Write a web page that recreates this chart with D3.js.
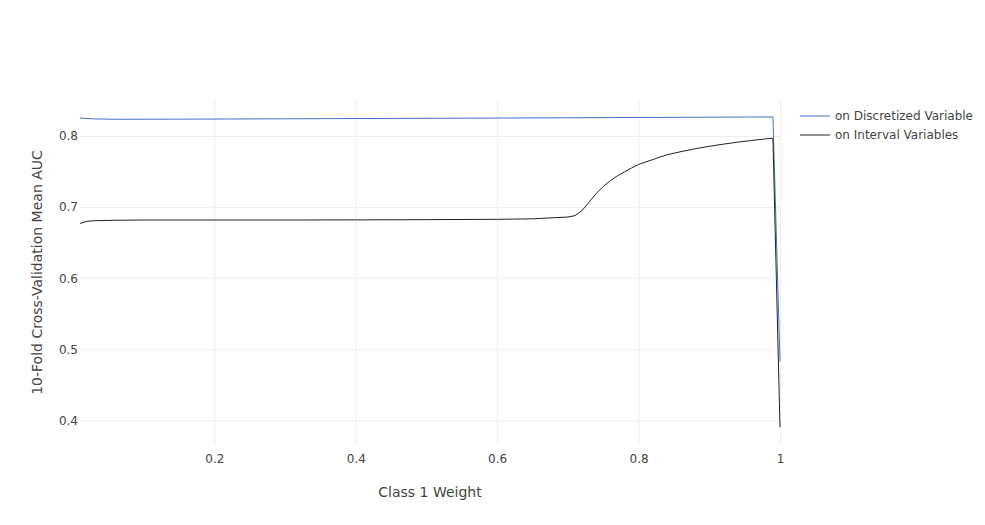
<!DOCTYPE html>
<html>
<head>
<meta charset="utf-8">
<script src="https://cdn.jsdelivr.net/npm/d3@7"></script>
<style>
  body { margin: 0; background: #fff; }
  text { font-family: "DejaVu Sans", Verdana, sans-serif; fill: #444; }
</style>
</head>
<body>
<div id="chart"></div>
<script>
// class 1 weight values
var weights = [0.01, 0.02, 0.03, 0.06, 0.1, 0.2, 0.3, 0.4, 0.5, 0.6, 0.65, 0.7, 0.71, 0.72, 0.73, 0.74, 0.75, 0.76, 0.77, 0.78, 0.79, 0.8, 0.82, 0.84, 0.86, 0.88, 0.9, 0.92, 0.94, 0.96, 0.98, 0.99, 1.0];
// mean AUC, interval variables
var aucInterval = [0.677, 0.680, 0.6808, 0.6815, 0.6818, 0.6818, 0.6818, 0.682, 0.6823, 0.6828, 0.6835, 0.686, 0.688, 0.695, 0.707, 0.719, 0.729, 0.737, 0.744, 0.7495, 0.755, 0.760, 0.7668, 0.7735, 0.778, 0.782, 0.7855, 0.7885, 0.7913, 0.7937, 0.796, 0.7967, 0.3903];
// mean AUC, discretized variables
var weightsDisc = [0.01, 0.03, 0.06, 0.2, 0.4, 0.6, 0.8, 0.99, 1.0];
var aucDiscretized = [0.8253, 0.824, 0.8235, 0.8238, 0.8245, 0.8252, 0.826, 0.8268, 0.4826];

var seriesNames = ["on Discretized Variables", "on Interval Variables"];
var seriesColors = ["#4472c4", "#222222"];
var xTicks = [0.2, 0.4, 0.6, 0.8, 1];
var yTicks = [0.4, 0.5, 0.6, 0.7, 0.8];

var width = 985, height = 525;
var plotL = 80, plotR = 780, plotT = 100, plotB = 445;

var svg = d3.select('#chart').append('svg')
  .attr('width', width)
  .attr('height', height);

var x = d3.scaleLinear().domain([0.01, 1]).range([plotL, plotR]);
var y = d3.scaleLinear().domain([0.3654, 0.8506]).range([plotB, plotT]);

// grid + tick labels
svg.append('g')
  .attr('transform', 'translate(0,' + plotB + ')')
  .call(d3.axisBottom(x).tickValues(xTicks).tickSize(-(plotB - plotT)).tickFormat(d3.format('~g')).tickPadding(9))
  .call(function (g) {
    g.select('.domain').remove();
    g.selectAll('.tick line').attr('stroke', '#eee');
    g.selectAll('.tick text').attr('font-size', 12).attr('fill', '#444');
  });

svg.append('g')
  .attr('transform', 'translate(' + plotL + ',0)')
  .call(d3.axisLeft(y).tickValues(yTicks).tickSize(-(plotR - plotL)).tickFormat(d3.format('.1f')).tickPadding(2))
  .call(function (g) {
    g.select('.domain').remove();
    g.selectAll('.tick line').attr('stroke', '#eee');
    g.selectAll('.tick text').attr('font-size', 12).attr('fill', '#444');
  });

var line = d3.line()
  .x(function (d) { return x(d[0]); })
  .y(function (d) { return y(d[1]); });

var discData = weightsDisc.map(function (w, i) { return [w, aucDiscretized[i]]; });
var intData = weights.map(function (w, i) { return [w, aucInterval[i]]; });

svg.append('path')
  .datum(discData)
  .attr('d', line)
  .attr('fill', 'none')
  .attr('stroke', seriesColors[0])
  .attr('stroke-width', 1);

svg.append('path')
  .datum(intData)
  .attr('d', line)
  .attr('fill', 'none')
  .attr('stroke', seriesColors[1])
  .attr('stroke-width', 1);

// axis titles
svg.append('text')
  .attr('x', (plotL + plotR) / 2)
  .attr('y', 497)
  .attr('text-anchor', 'middle')
  .attr('font-size', 14)
  .text('Class 1 Weight');

svg.append('text')
  .attr('transform', 'translate(42,' + ((plotT + plotB) / 2) + ') rotate(-90)')
  .attr('text-anchor', 'middle')
  .attr('font-size', 14)
  .text('10-Fold Cross-Validation Mean AUC');

// legend, clipped at the right like the original
svg.append('clipPath').attr('id', 'legclip')
  .append('rect').attr('x', 790).attr('y', 100).attr('width', 183).attr('height', 60);

var legend = svg.append('g').attr('clip-path', 'url(#legclip)');
seriesNames.forEach(function (name, i) {
  var ly = 116 + i * 19;
  legend.append('line')
    .attr('x1', 800).attr('x2', 830)
    .attr('y1', ly).attr('y2', ly)
    .attr('stroke', seriesColors[i])
    .attr('stroke-width', 1);
  legend.append('text')
    .attr('x', 835)
    .attr('y', ly + 4)
    .attr('font-size', 12)
    .text(name);
});
</script>
</body>
</html>
